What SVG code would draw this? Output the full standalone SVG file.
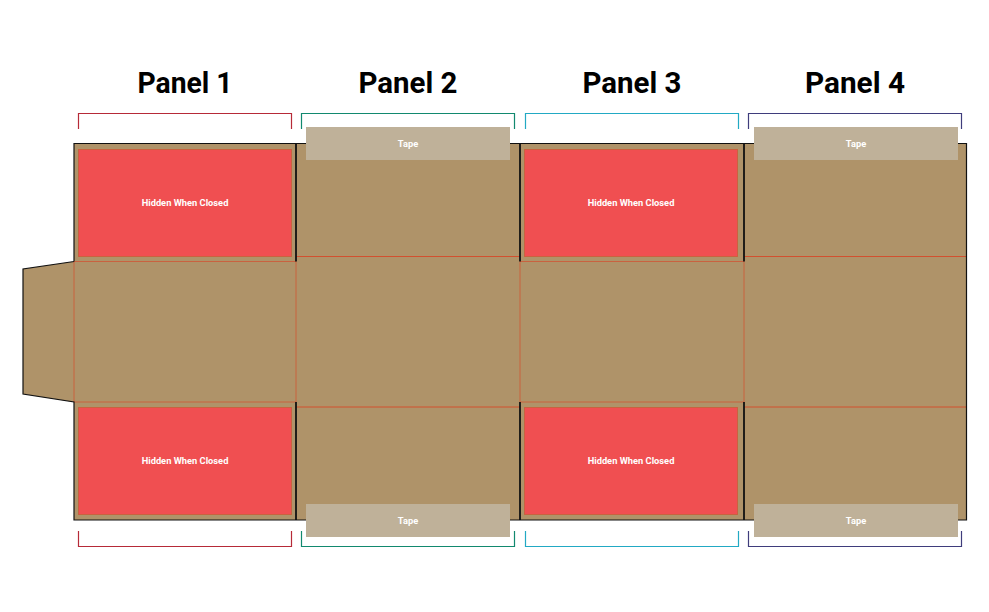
<svg xmlns="http://www.w3.org/2000/svg" width="989" height="612" viewBox="0 0 989 612">
<style>
.title{font:700 30px Roboto,"Liberation Sans",sans-serif;fill:#000;text-anchor:middle}
.lbl{font:700 9.300px Roboto,"Liberation Sans",sans-serif;fill:#fff;text-anchor:middle}
.hid{fill:#f04f51;stroke:#c9623f;stroke-width:1}
.tape{fill:#bfb199}
.fold{stroke:#c9623f;stroke-width:1;fill:none}
.foldr{stroke:#d2502f;stroke-width:1;fill:none}
.cut{stroke:#111;stroke-width:1.800;fill:none}
.br{fill:none;stroke-width:1.200}
</style>
<g id="board">
<path d="M74 143.500H966.500V520H74V402L23 394V269L74 261.500Z" fill="#af9369"/>
</g>
<g id="connectors">
<path class="fold" d="M74 261.500H296M74 402H296M520 261.500H744M520 402H744M74 261.500V402M296 261.500V402M520 261.500V402M744 261.500V402"/>
<path class="foldr" d="M296 256.500H520M296 407H520M744 256.500H966M744 407H966"/>
<path class="cut" d="M296 143.500V261.500M520 143.500V261.500M744 143.500V261.500M296 402V520M520 402V520M744 402V520"/>
<path d="M74 261.500V143.500H966.500V520H74V402L23 394V269L74 261.500" fill="none" stroke="#111" stroke-width="1.200"/>
</g>
<g id="panel-1-label"><text class="title" x="185" y="93" textLength="95" lengthAdjust="spacingAndGlyphs">Panel 1</text></g>
<g id="panel-2-label"><text class="title" x="408" y="93" textLength="99" lengthAdjust="spacingAndGlyphs">Panel 2</text></g>
<g id="panel-3-label"><text class="title" x="632" y="93" textLength="99" lengthAdjust="spacingAndGlyphs">Panel 3</text></g>
<g id="panel-4-label"><text class="title" x="855" y="93" textLength="100" lengthAdjust="spacingAndGlyphs">Panel 4</text></g>
<g id="bracket-1"><path class="br" stroke="#b62a38" d="M78.500 129V113.500H291.500V129M78.500 531V546.500H291.500V531"/></g>
<g id="bracket-2"><path class="br" stroke="#12896f" d="M301.500 129V113.500H514.500V129M301.500 531V546.500H514.500V531"/></g>
<g id="bracket-3"><path class="br" stroke="#22a9c4" d="M525.500 129V113.500H738.500V129M525.500 531V546.500H738.500V531"/></g>
<g id="bracket-4"><path class="br" stroke="#3f3d7c" d="M748.500 129V113.500H961.500V129M748.500 531V546.500H961.500V531"/></g>
<g id="hidden-1-top"><rect class="hid" x="78.500" y="149.500" width="213" height="107"/><text class="lbl" x="185" y="206">Hidden When Closed</text></g>
<g id="hidden-3-top"><rect class="hid" x="524.500" y="149.500" width="213" height="107"/><text class="lbl" x="631" y="206">Hidden When Closed</text></g>
<g id="hidden-1-bottom"><rect class="hid" x="78.500" y="407.500" width="213" height="107"/><text class="lbl" x="185" y="464">Hidden When Closed</text></g>
<g id="hidden-3-bottom"><rect class="hid" x="524.500" y="407.500" width="213" height="107"/><text class="lbl" x="631" y="464">Hidden When Closed</text></g>
<g id="tape-2-top"><rect class="tape" x="306" y="127" width="204" height="33"/><text class="lbl" x="408" y="147">Tape</text></g>
<g id="tape-4-top"><rect class="tape" x="754" y="127" width="204" height="33"/><text class="lbl" x="856" y="147">Tape</text></g>
<g id="tape-2-bottom"><rect class="tape" x="306" y="504" width="204" height="33"/><text class="lbl" x="408" y="524">Tape</text></g>
<g id="tape-4-bottom"><rect class="tape" x="754" y="504" width="204" height="33"/><text class="lbl" x="856" y="524">Tape</text></g>
</svg>
